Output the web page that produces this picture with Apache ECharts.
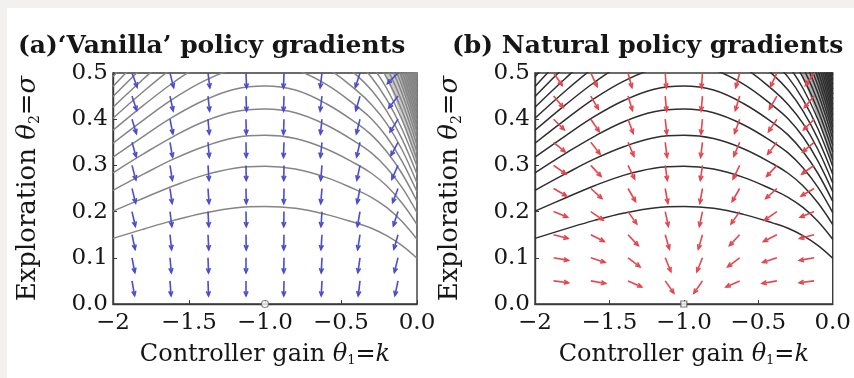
<!DOCTYPE html>
<html>
<head>
<meta charset="utf-8">
<script src="https://cdn.jsdelivr.net/npm/echarts@6/dist/echarts.min.js"></script>
<style>
html,body{margin:0;padding:0;background:#f2f1ef;}
#chart{width:854px;height:378px;}
</style>
</head>
<body>
<div id="chart"></div>
<script>
// ---------- data ----------
const titles = ["(a)\u2018Vanilla\u2019 policy gradients", "(b) Natural policy gradients"];
const xTicks = [-2, -1.5, -1, -0.5, 0];
const yTicks = [0, 0.1, 0.2, 0.3, 0.4, 0.5];

// contour lines of the cost: sigma value of each level at these gains
const contourK = [-2, -1.8, -1.6, -1.4, -1.2, -1.0, -0.8, -0.6, -0.4, -0.3, -0.2, -0.1, 0];
const contourLevels = [
  [0.142,0.162,0.181,0.197,0.208,0.211,0.207,0.194,0.175,0.164,0.148,0.127,0.099],
  [0.201,0.229,0.256,0.279,0.294,0.298,0.292,0.274,0.247,0.231,0.209,0.179,0.140],
  [0.246,0.281,0.314,0.341,0.360,0.365,0.358,0.336,0.303,0.283,0.256,0.219,0.172],
  [0.284,0.325,0.363,0.395,0.416,0.422,0.414,0.388,0.350,0.327,0.295,0.253,0.198],
  [0.318,0.363,0.406,0.441,0.465,0.472,0.463,0.434,0.392,0.366,0.330,0.283,0.222],
  [0.348,0.398,0.445,0.483,0.509,0.517,0.507,0.476,0.429,0.401,0.362,0.310,0.243],
  [0.376,0.430,0.480,0.522,0.550,0.558,0.547,0.513,0.463,0.432,0.391,0.335,0.262],
  [0.402,0.460,0.513,0.558,0.588,0.597,0.585,0.549,0.496,0.463,0.418,0.358,0.281],
  [0.426,0.487,0.544,0.592,0.624,0.633,0.620,0.582,0.525,0.491,0.443,0.380,0.298],
  [0.449,0.514,0.574,0.624,0.657,0.667,0.654,0.614,0.554,0.517,0.467,0.400,0.313],
  [0.471,0.539,0.602,0.655,0.690,0.700,0.686,0.644,0.581,0.543,0.490,0.420,0.329],
  [0.492,0.563,0.629,0.683,0.720,0.731,0.716,0.673,0.607,0.567,0.512,0.439,0.344],
  [0.512,0.586,0.654,0.712,0.750,0.761,0.746,0.700,0.632,0.590,0.533,0.457,0.358],
  [0.531,0.608,0.679,0.738,0.777,0.789,0.773,0.726,0.655,0.611,0.552,0.473,0.371],
  [0.550,0.629,0.703,0.764,0.805,0.817,0.801,0.752,0.678,0.633,0.572,0.490,0.384],
  [0.568,0.650,0.726,0.789,0.831,0.844,0.827,0.776,0.701,0.654,0.591,0.506,0.397],
  [0.586,0.670,0.748,0.813,0.857,0.870,0.853,0.800,0.722,0.674,0.609,0.522,0.409],
  [0.602,0.689,0.770,0.837,0.882,0.895,0.877,0.823,0.743,0.694,0.627,0.537,0.421],
  [0.619,0.708,0.791,0.860,0.906,0.920,0.902,0.846,0.764,0.713,0.644,0.552,0.432],
  [0.635,0.727,0.812,0.883,0.930,0.944,0.925,0.868,0.784,0.732,0.661,0.566,0.444],
  [0.651,0.745,0.832,0.904,0.952,0.967,0.948,0.890,0.803,0.749,0.677,0.580,0.454],
  [0.666,0.762,0.851,0.926,0.975,0.990,0.970,0.911,0.822,0.767,0.693,0.594,0.465],
  [0.681,0.779,0.870,0.946,0.997,1.012,0.992,0.931,0.840,0.784,0.708,0.607,0.476],
  [0.696,0.796,0.889,0.967,1.018,1.034,1.013,0.951,0.858,0.801,0.724,0.620,0.486],
  [0.710,0.812,0.907,0.986,1.039,1.055,1.034,0.971,0.876,0.818,0.739,0.633,0.496]
];

// dense (grey) region in the upper right corner: outline and a darker inner core
const shadeK = [-0.21, 0, 0, -0.06, -0.13];
const shadeS = [0.5, 0.5, 0.30, 0.36, 0.43];
const coreK = [-0.12, 0, 0, -0.05];
const coreS = [0.5, 0.5, 0.37, 0.43];

// arrow grid (tail positions) and arrow directions in degrees (0 = right, 90 = down)
const arrowK = [-1.875, -1.625, -1.375, -1.125, -0.875, -0.625, -0.375, -0.125];
const arrowS = [0.5, 0.45, 0.4, 0.35, 0.3, 0.25, 0.2, 0.15, 0.1, 0.05];
const vanillaAngle = [
  [70,76,83,88,92,97,108,135],
  [72,78,84,88,92,97,106,128],
  [73,79,85,89,92,96,104,122],
  [74,80,85,89,92,96,103,118],
  [75,81,86,89,91,95,102,114],
  [76,82,86,89,91,95,101,111],
  [77,83,87,89,91,94,100,108],
  [78,84,87,89,91,94,99,106],
  [79,85,88,90,91,93,98,104],
  [80,86,88,90,91,93,97,102]
];
const naturalAngle = [
  [55,65,75,86,94,105,115,125],
  [50,60,73,85,95,107,120,130],
  [45,56,70,84,96,110,124,135],
  [40,52,67,83,97,113,128,140],
  [35,47,64,82,98,116,133,145],
  [30,42,60,80,100,120,138,150],
  [22,35,55,78,102,125,145,158],
  [15,27,47,74,106,133,153,165],
  [10,18,37,68,112,143,162,170],
  [7,10,24,55,125,156,170,173]
];
const optimum = [[-1, 0]];

// ---------- chart ----------
const FONT = 'DejaVu Serif';
const TXT = '#161616';
const chart = echarts.init(document.getElementById('chart'), null, {renderer: 'canvas'});

function fmtX(v) {
  if (v === -2) return '\u22122';
  const s = Math.abs(v).toFixed(1);
  return (v < 0 ? '\u2212' : '') + s;
}

function makeGrid(left) {
  return {left: left, top: 73, width: 304, height: 231, show: true,
          borderColor: '#3a3a3a', borderWidth: 1.4, backgroundColor: 'transparent'};
}
function richName(fs) {
  return {
    t: {fontFamily: FONT, fontStyle: 'italic', fontSize: fs, color: TXT},
    s: {fontFamily: FONT, fontSize: Math.round(fs * 0.55), color: TXT, padding: [Math.round(fs * 0.5), 0, 0, 0]}
  };
}
function makeX(i) {
  return {
    type: 'value', gridIndex: i, min: -2, max: 0, interval: 0.5,
    name: 'Controller gain {t|\u03b8}{s|1}={t|k}', nameLocation: 'middle', nameGap: 38,
    nameTextStyle: {fontFamily: FONT, fontSize: 24, color: TXT, rich: richName(24)},
    axisLine: {show: true, onZero: false, lineStyle: {color: '#3a3a3a', width: 1.4}},
    axisTick: {show: true, inside: true, length: 4, lineStyle: {color: '#3a3a3a'}},
    axisLabel: {fontFamily: FONT, fontSize: 23, color: TXT, margin: 8, formatter: fmtX},
    splitLine: {show: false}
  };
}
function makeY(i) {
  return {
    type: 'value', gridIndex: i, min: 0, max: 0.5, interval: 0.1,
    name: 'Exploration {t|\u03b8}{s|2}={t|\u03c3}', nameLocation: 'middle', nameGap: 71, nameRotate: 90,
    nameTextStyle: {fontFamily: FONT, fontSize: 26, color: TXT, rich: richName(26)},
    axisLine: {show: true, onZero: false, lineStyle: {color: '#3a3a3a', width: 1.4}},
    axisTick: {show: true, inside: true, length: 4, lineStyle: {color: '#3a3a3a'}},
    axisLabel: {fontFamily: FONT, fontSize: 23, color: TXT, margin: 5, formatter: v => v.toFixed(1)},
    splitLine: {show: false}
  };
}

function contourSeries(i, color) {
  return contourLevels.map(row => ({
    type: 'line', xAxisIndex: i, yAxisIndex: i, smooth: 0.4, showSymbol: false, clip: true,
    silent: true, z: 2,
    lineStyle: {color: color, width: 1.5},
    data: contourK.map((k, j) => [k, row[j]])
  }));
}

// filled polygon drawn as a closed line with an area fill
function regionSeries(i, ks, ss, fill) {
  const d = ks.map((k, j) => [k, ss[j]]);
  d.push([ks[0], ss[0]]);
  return {
    type: 'line', xAxisIndex: i, yAxisIndex: i, silent: true, z: 1, showSymbol: false, clip: true,
    data: d, lineStyle: {width: 0, opacity: 0},
    areaStyle: {color: fill, opacity: 1, origin: 'end'}
  };
}

function arrowSeries(i, angles, color) {
  const data = [];
  arrowS.forEach((s, r) => arrowK.forEach((k, c) => data.push([k, s, angles[r][c]])));
  return {
    type: 'custom', xAxisIndex: i, yAxisIndex: i, silent: true, z: 3, clip: true,
    data: data,
    renderItem: function (params, api) {
      const p = api.coord([api.value(0), api.value(1)]);
      const a = api.value(2) * Math.PI / 180;
      const L = 15, h = 5, w = 0.42;
      const ex = p[0] + L * Math.cos(a), ey = p[1] + L * Math.sin(a);
      const b1 = [ex - h * Math.cos(a - w), ey - h * Math.sin(a - w)];
      const b2 = [ex - h * Math.cos(a + w), ey - h * Math.sin(a + w)];
      return {
        type: 'group', children: [
          {type: 'line', shape: {x1: p[0], y1: p[1], x2: ex, y2: ey}, style: {stroke: color, lineWidth: 1.6}},
          {type: 'polyline', shape: {points: [b1, [ex, ey], b2]}, style: {stroke: color, lineWidth: 1.6, fill: null}}
        ]
      };
    }
  };
}

const option = {
  backgroundColor: 'transparent',
  animation: false,
  graphic: [{type: 'rect', z: -10, shape: {x: 7, y: 8, width: 847, height: 370}, style: {fill: '#ffffff'}}],
  title: [
    {text: titles[0], left: 13, top: 29, textStyle: {fontFamily: FONT, fontWeight: 'bold', fontSize: 25, color: TXT}},
    {text: titles[1], left: 447, top: 29, textStyle: {fontFamily: FONT, fontWeight: 'bold', fontSize: 25, color: TXT}}
  ],
  grid: [makeGrid(113), makeGrid(535)],
  xAxis: [makeX(0), makeX(1)],
  yAxis: [makeY(0), makeY(1)],
  series: [].concat(
    [regionSeries(0, shadeK, shadeS, 'rgba(140,140,140,0.45)'), regionSeries(0, coreK, coreS, 'rgba(120,120,120,0.5)'),
     regionSeries(1, shadeK, shadeS, 'rgba(80,80,80,0.45)'), regionSeries(1, coreK, coreS, 'rgba(60,60,60,0.55)')],
    contourSeries(0, '#858585'),
    contourSeries(1, '#2e2e2e'),
    [arrowSeries(0, vanillaAngle, '#4c4ccc'), arrowSeries(1, naturalAngle, '#e2474d')],
    [
      {type: 'scatter', xAxisIndex: 0, yAxisIndex: 0, data: optimum, symbol: 'circle', symbolSize: 7, clip: false, z: 5,
       itemStyle: {color: '#fff', borderColor: '#666', borderWidth: 1.2}},
      {type: 'scatter', xAxisIndex: 1, yAxisIndex: 1, data: optimum, symbol: 'rect', symbolSize: 6, clip: false, z: 5,
       itemStyle: {color: '#fff', borderColor: '#555', borderWidth: 1.2}}
    ]
  )
};
chart.setOption(option);
</script>
</body>
</html>
